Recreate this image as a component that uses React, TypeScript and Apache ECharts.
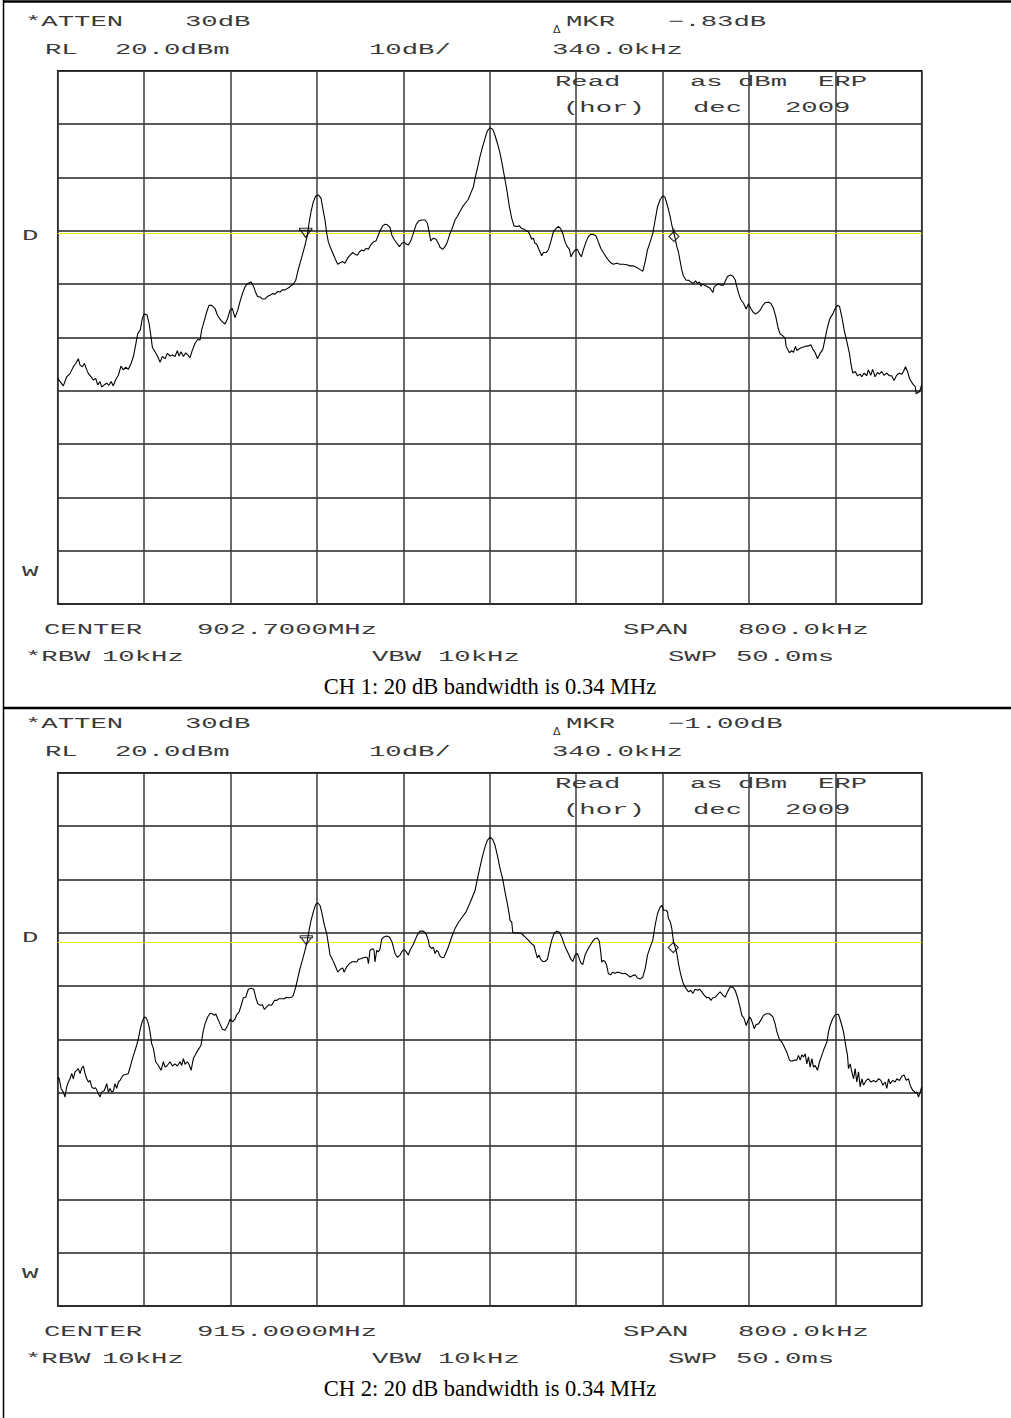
import React, { useEffect, useRef } from "react";
import * as echarts from "echarts";

// ---------- DATA ----------
// Frequency offset from centre (kHz), level (dBm)
const ch1Trace: [number, number][] = [
  [-400.0,-37.7],[-394.8,-39.1],[-391.7,-37.4],[-388.6,-36.8],[-385.5,-35.5],[-383.3,-34.9],[-380.9,-34.0],[-379.3,-35.2],[-377.2,-35.5],[-375.3,-34.9],[-373.1,-36.1],[-371.6,-36.8],[-369.1,-37.4],[-367.0,-38.0],[-364.8,-37.7],[-363.0,-38.9],[-360.8,-38.3],[-359.3,-39.3],[-356.8,-38.9],[-354.6,-38.6],[-352.5,-39.0],[-350.6,-38.3],[-348.5,-39.1],[-346.3,-37.9],[-343.8,-37.1],[-341.4,-35.4],[-339.2,-36.1],[-337.0,-35.6],[-334.6,-36.0],[-332.1,-34.9],[-329.9,-33.6],[-327.8,-31.4],[-325.9,-29.3],[-323.5,-28.6],[-321.6,-26.4],[-319.8,-25.6],[-317.3,-25.8],[-315.4,-27.4],[-313.6,-29.9],[-312.3,-31.9],[-309.9,-32.7],[-307.4,-33.6],[-305.2,-34.7],[-303.1,-33.6],[-300.6,-34.0],[-298.5,-33.0],[-296.0,-33.5],[-293.8,-33.3],[-291.4,-33.6],[-289.2,-32.5],[-287.7,-33.5],[-285.8,-32.7],[-283.6,-33.6],[-281.5,-32.9],[-279.6,-33.3],[-277.5,-33.8],[-275.3,-32.4],[-272.8,-31.1],[-270.4,-30.4],[-268.2,-30.5],[-266.7,-28.6],[-264.2,-26.8],[-262.0,-25.2],[-259.9,-24.0],[-257.4,-24.0],[-254.3,-24.6],[-252.2,-25.8],[-249.7,-26.6],[-247.5,-27.1],[-245.1,-27.5],[-242.6,-26.4],[-240.4,-24.9],[-238.3,-24.6],[-235.8,-26.3],[-233.3,-24.9],[-231.2,-23.3],[-229.0,-21.8],[-226.5,-20.5],[-224.1,-19.9],[-221.0,-19.6],[-218.5,-20.5],[-216.7,-21.6],[-214.8,-22.4],[-212.7,-22.4],[-210.5,-22.8],[-208.0,-22.8],[-205.6,-22.3],[-203.4,-22.1],[-201.2,-21.8],[-198.8,-21.9],[-196.3,-21.4],[-194.1,-21.5],[-192.0,-21.1],[-189.5,-21.1],[-187.0,-20.8],[-184.9,-20.5],[-181.8,-20.0],[-179.6,-19.3],[-177.8,-17.7],[-175.6,-16.1],[-173.5,-14.6],[-171.0,-12.7],[-169.1,-11.1],[-167.3,-8.6],[-165.4,-6.4],[-163.3,-4.6],[-161.1,-3.5],[-158.6,-3.3],[-156.2,-3.9],[-154.0,-6.4],[-152.5,-8.0],[-150.9,-10.5],[-149.4,-12.1],[-147.8,-13.0],[-145.7,-14.0],[-143.2,-15.2],[-140.7,-16.3],
  [-138.6,-16.0],[-136.1,-15.8],[-134.0,-16.1],[-131.8,-15.2],[-129.3,-14.6],[-126.9,-14.1],[-124.7,-14.4],[-122.5,-14.6],[-120.7,-14.0],[-118.5,-13.6],[-116.4,-13.8],[-114.5,-13.3],[-112.3,-13.5],[-110.2,-12.7],[-107.7,-12.1],[-105.2,-11.9],[-103.1,-10.8],[-101.5,-10.0],[-99.1,-9.1],[-96.9,-8.8],[-94.8,-8.9],[-92.3,-9.4],[-90.7,-10.8],[-88.6,-11.6],[-86.1,-12.3],[-83.6,-13.0],[-81.5,-12.4],[-79.3,-12.1],[-77.5,-12.5],[-75.3,-12.7],[-73.1,-11.9],[-70.7,-10.5],[-68.2,-8.9],[-66.0,-8.2],[-63.0,-8.0],[-59.9,-8.0],[-57.7,-8.6],[-55.9,-10.4],[-54.6,-11.9],[-52.2,-11.4],[-49.7,-11.6],[-47.5,-12.4],[-46.0,-13.1],[-43.5,-13.5],[-41.4,-13.0],[-39.2,-12.1],[-36.7,-10.5],[-34.3,-9.3],[-32.1,-8.0],[-29.9,-7.3],[-27.5,-6.4],[-25.0,-5.5],[-22.8,-4.9],[-19.8,-4.1],[-17.6,-3.0],[-15.1,-1.8],[-13.6,-0.2],[-11.4,1.7],[-9.0,3.9],[-6.5,5.8],[-4.3,7.3],[-2.2,8.7],[0.3,9.3],[2.8,9.0],[4.9,7.9],[7.1,6.4],[9.6,4.5],[12.0,2.0],[14.2,-0.5],[16.4,-3.0],[18.2,-5.5],[20.4,-7.7],[22.5,-9.1],[25.0,-9.2],[27.5,-9.1],[29.6,-9.6],[31.8,-9.7],[33.6,-10.0],[35.8,-10.2],[37.3,-10.8],[38.9,-11.6],[40.4,-11.4],[42.0,-12.4],[43.5,-12.5],[45.1,-13.3],[46.6,-14.0],[48.1,-14.7],[49.7,-14.1],[52.2,-14.1],[54.3,-13.6],[56.5,-12.1],[59.0,-10.2],[61.4,-9.6],[63.6,-9.2],[65.7,-9.6],[67.6,-10.5],[69.8,-12.1],[71.9,-13.0],[73.8,-13.5],[75.3,-14.9],[77.5,-14.0],[79.3,-13.6],[81.2,-13.5],[83.0,-14.3],[84.9,-14.9],[86.7,-13.6],[89.2,-12.1],[91.4,-11.1],[93.5,-10.7],[96.0,-10.7],[98.5,-11.0],[100.6,-12.1],[102.8,-13.3],[105.2,-14.1],[107.7,-14.9],[109.9,-15.5],[112.0,-16.0],[114.5,-16.3],[117.6,-16.1],[120.7,-16.3],[123.8,-16.3],[126.9,-16.4],
  [130.1,-16.6],[133.1,-16.6],[136.2,-16.9],[139.3,-17.3],[141.8,-17.6],[144.0,-15.8],[146.1,-13.6],[148.6,-12.1],[151.0,-10.5],[153.2,-8.0],[155.4,-5.5],[157.8,-4.2],[160.0,-3.5],[162.2,-3.7],[164.0,-4.9],[165.6,-6.1],[167.1,-7.4],[168.6,-8.9],[170.2,-10.2],[171.7,-11.4],[173.3,-13.0],[174.8,-14.0],[176.4,-15.8],[177.9,-17.4],[179.4,-18.5],[181.9,-19.3],[184.1,-19.3],[186.2,-19.6],[188.7,-19.9],[190.6,-19.4],[192.4,-19.9],[194.3,-19.6],[195.5,-20.4],[197.3,-20.0],[199.5,-20.3],[201.7,-20.5],[204.1,-20.8],[206.6,-21.6],[207.8,-20.6],[209.7,-20.2],[211.9,-20.0],[214.0,-20.2],[216.5,-20.2],[218.3,-19.4],[220.2,-18.6],[222.7,-18.3],[225.1,-18.5],[227.3,-19.2],[228.8,-20.5],[230.4,-21.7],[232.5,-22.9],[235.0,-23.6],[237.5,-24.7],[239.6,-23.7],[241.8,-24.6],[243.6,-25.2],[245.8,-25.6],[248.0,-25.4],[250.4,-24.9],[252.9,-24.0],[255.1,-23.5],[258.1,-23.4],[260.3,-23.6],[262.8,-24.6],[264.9,-26.1],[267.1,-28.3],[269.0,-29.4],[271.4,-29.7],[273.6,-30.2],[274.5,-31.7],[275.7,-32.2],[277.6,-32.9],[279.4,-32.5],[281.3,-32.8],[283.1,-31.7],[284.4,-32.5],[286.9,-32.1],[289.0,-31.9],[292.1,-31.7],[295.2,-31.6],[297.3,-31.4],[299.2,-32.2],[301.4,-32.9],[303.5,-34.0],[306.0,-33.0],[308.5,-32.2],[310.6,-30.2],[312.2,-28.6],[313.7,-27.4],[315.2,-26.4],[317.7,-25.6],[319.9,-24.6],[322.0,-24.0],[323.9,-24.2],[326.0,-26.1],[328.2,-28.6],[330.7,-30.8],[333.1,-33.0],[334.4,-34.9],[336.2,-36.7],[338.4,-36.4],[340.5,-37.2],[343.0,-36.9],[344.5,-37.4],[346.7,-36.7],[349.1,-37.2],[350.6,-36.1],[352.8,-37.1],[354.6,-36.0],[356.8,-37.4],[359.0,-36.6],[360.8,-36.9],[363.0,-36.4],[365.1,-37.1],[367.6,-36.7],[370.1,-37.2],[372.2,-37.2],[374.4,-38.1],[376.8,-37.1],[379.3,-36.7],[381.6,-36.9],[383.1,-36.4],[385.0,-35.5],[386.9,-36.4],[388.7,-37.7],[390.9,-38.5],[392.4,-38.9],[394.0,-39.2],[394.9,-40.6],[396.1,-40.4],[398.0,-40.2],[400.0,-38.9],
];

const ch2Trace: [number, number][] = [
  [-400.0,-37.4],[-398.8,-37.2],[-396.9,-39.2],[-394.8,-39.9],[-393.2,-40.8],[-391.7,-38.9],[-390.1,-38.0],[-388.6,-37.4],[-387.0,-36.4],[-385.5,-37.4],[-384.0,-36.1],[-382.4,-35.8],[-380.9,-35.5],[-379.3,-36.4],[-377.8,-35.4],[-376.2,-35.0],[-374.7,-36.4],[-373.1,-37.4],[-371.6,-38.0],[-370.1,-37.7],[-368.5,-38.9],[-367.0,-39.2],[-364.8,-39.1],[-363.0,-39.9],[-360.8,-40.8],[-359.3,-39.9],[-356.8,-39.6],[-354.6,-38.3],[-353.1,-39.9],[-351.5,-39.2],[-350.0,-39.9],[-348.5,-39.7],[-346.9,-38.3],[-345.4,-39.2],[-343.8,-38.0],[-342.3,-37.7],[-340.7,-37.1],[-339.2,-36.7],[-337.0,-36.6],[-334.6,-36.4],[-332.1,-34.6],[-329.9,-33.0],[-328.4,-32.1],[-326.9,-31.1],[-325.3,-29.9],[-323.5,-28.0],[-321.6,-26.6],[-319.8,-25.8],[-317.9,-26.0],[-316.0,-27.1],[-314.5,-28.6],[-313.0,-30.8],[-311.4,-31.7],[-309.3,-34.2],[-306.8,-34.9],[-304.3,-35.8],[-302.2,-34.2],[-300.6,-35.2],[-298.5,-34.9],[-296.0,-34.2],[-293.8,-35.0],[-291.4,-34.6],[-289.2,-35.0],[-286.7,-34.2],[-285.2,-34.9],[-283.6,-33.6],[-282.1,-34.7],[-279.9,-34.2],[-278.4,-34.7],[-276.5,-35.8],[-274.4,-33.6],[-271.3,-32.4],[-269.1,-31.7],[-267.3,-31.1],[-265.4,-28.6],[-263.6,-27.1],[-261.1,-25.8],[-258.9,-25.1],[-256.8,-25.2],[-254.9,-25.5],[-253.7,-25.2],[-251.9,-26.1],[-249.7,-27.1],[-247.5,-28.1],[-245.1,-28.3],[-242.6,-27.4],[-240.4,-26.2],[-238.3,-26.7],[-235.8,-26.2],[-234.3,-25.4],[-232.1,-24.9],[-230.2,-23.7],[-228.1,-22.2],[-225.9,-22.1],[-223.5,-20.6],[-221.0,-20.4],[-218.5,-20.6],[-216.7,-22.1],[-214.8,-23.3],[-212.7,-23.6],[-210.5,-23.5],[-208.6,-24.4],[-206.5,-23.9],[-204.3,-23.5],[-201.9,-23.6],[-199.4,-22.7],[-197.2,-22.7],[-195.1,-22.4],[-192.6,-22.4],[-190.1,-22.4],[-188.0,-22.1],[-185.8,-22.2],[-183.3,-22.1],[-181.8,-21.7],[-179.6,-20.2],[-177.8,-18.6],[-175.6,-16.7],[-173.5,-15.2],[-171.0,-13.3],[-169.1,-11.7],[-167.3,-9.6],[-165.4,-7.7],[-163.3,-6.1],[-161.1,-4.7],[-159.3,-4.4],[-157.1,-4.9],[-155.6,-6.1],[-153.1,-8.6],[-150.9,-10.2],[-149.4,-12.1],[-147.8,-14.2],[-145.7,-15.0],[-143.2,-16.1],[-140.7,-17.4],
  [-138.6,-16.9],[-136.1,-16.6],[-134.9,-17.4],[-132.4,-16.4],[-129.9,-15.8],[-127.8,-15.5],[-125.6,-15.4],[-123.1,-15.5],[-121.6,-15.0],[-119.4,-14.9],[-117.0,-14.7],[-114.5,-14.6],[-113.3,-14.7],[-112.3,-15.8],[-110.8,-13.3],[-108.3,-13.0],[-107.1,-13.3],[-106.2,-15.5],[-104.6,-13.3],[-103.1,-13.6],[-101.5,-13.0],[-100.0,-11.2],[-97.8,-10.8],[-95.4,-10.6],[-92.9,-10.8],[-90.7,-11.6],[-89.2,-12.7],[-87.7,-13.9],[-85.5,-14.6],[-83.0,-14.2],[-81.5,-13.6],[-79.9,-13.2],[-78.4,-13.3],[-76.9,-13.7],[-75.3,-14.2],[-73.8,-13.3],[-71.3,-12.4],[-69.1,-11.4],[-67.0,-10.4],[-64.5,-9.7],[-61.4,-9.7],[-59.0,-10.2],[-56.8,-11.4],[-55.9,-12.5],[-53.7,-13.0],[-52.2,-12.7],[-50.6,-13.9],[-49.1,-13.3],[-47.5,-13.6],[-46.6,-14.2],[-44.4,-14.7],[-42.3,-14.6],[-40.4,-13.7],[-38.3,-12.7],[-36.7,-11.7],[-35.2,-10.8],[-32.1,-9.2],[-29.0,-8.1],[-25.9,-7.2],[-21.9,-6.1],[-17.6,-4.1],[-13.6,-2.1],[-11.4,0.1],[-9.0,2.3],[-6.5,4.5],[-4.3,6.1],[-2.2,7.3],[0.3,7.9],[2.8,7.5],[4.9,6.4],[7.1,4.5],[9.6,2.0],[12.0,0.1],[14.2,-2.4],[16.4,-4.6],[18.2,-6.7],[18.8,-7.7],[20.4,-8.0],[21.3,-9.9],[23.5,-10.1],[26.5,-10.0],[29.6,-10.2],[32.7,-10.8],[35.8,-11.4],[38.9,-12.1],[41.0,-12.4],[42.6,-13.6],[44.1,-14.7],[45.7,-14.2],[47.2,-15.0],[49.1,-15.4],[51.2,-15.4],[53.4,-15.0],[55.2,-13.3],[57.4,-11.4],[59.6,-10.2],[62.0,-9.7],[64.5,-9.9],[66.7,-10.8],[68.8,-12.1],[70.7,-13.0],[72.8,-13.9],[75.0,-14.9],[76.9,-15.4],[79.0,-14.2],[81.2,-13.9],[83.0,-14.9],[84.3,-15.6],[86.1,-16.0],[88.3,-14.2],[90.4,-13.3],[92.9,-12.4],[95.4,-11.6],[97.5,-11.1],[99.7,-11.0],[101.5,-11.6],[102.8,-13.6],[103.7,-15.5],[105.2,-15.2],[106.8,-15.4],[108.3,-16.1],[109.9,-17.7],[112.0,-17.9],[113.9,-17.4],[116.0,-17.6],[118.2,-17.4],[120.7,-17.5],[123.1,-17.7],[125.3,-17.6],[127.5,-17.9],
  [130.1,-18.3],[133.1,-18.0],[134.7,-17.9],[136.9,-18.5],[139.3,-18.7],[141.8,-18.3],[144.0,-16.7],[146.1,-14.2],[148.6,-12.7],[151.0,-11.4],[153.2,-8.6],[155.4,-6.4],[157.8,-5.2],[159.4,-4.9],[160.9,-5.8],[163.4,-5.8],[164.6,-6.1],[165.6,-7.4],[167.1,-7.9],[168.6,-9.2],[170.2,-11.7],[171.7,-12.7],[173.3,-13.9],[174.8,-15.8],[176.4,-17.4],[177.9,-18.6],[179.4,-19.6],[181.9,-20.5],[184.1,-21.1],[186.2,-20.8],[188.1,-21.4],[190.2,-20.6],[192.4,-20.8],[194.3,-20.6],[196.4,-21.1],[198.6,-21.7],[201.0,-22.2],[202.9,-22.1],[204.8,-22.7],[206.6,-22.2],[208.8,-22.1],[210.9,-21.6],[213.4,-21.1],[215.9,-21.7],[218.0,-22.1],[220.2,-21.1],[222.7,-20.2],[225.1,-20.2],[227.3,-20.8],[229.4,-22.1],[231.3,-23.6],[233.5,-25.5],[235.6,-26.1],[237.5,-27.4],[238.7,-26.7],[240.6,-25.8],[241.8,-26.1],[243.6,-27.1],[244.9,-28.0],[246.7,-27.2],[248.9,-27.1],[251.0,-26.4],[253.5,-25.5],[256.0,-25.2],[259.1,-25.2],[262.2,-25.8],[264.3,-27.1],[265.9,-28.6],[268.3,-30.0],[270.5,-30.5],[272.7,-31.4],[275.1,-32.4],[277.6,-33.9],[279.8,-34.1],[281.9,-33.9],[284.4,-33.9],[285.9,-33.0],[287.5,-33.9],[289.0,-32.9],[290.6,-33.3],[292.1,-32.7],[293.6,-34.6],[295.2,-33.3],[296.7,-35.2],[298.3,-33.6],[299.8,-35.2],[301.4,-34.9],[303.5,-35.8],[305.4,-34.2],[307.5,-33.0],[309.7,-31.7],[312.2,-30.5],[313.7,-28.6],[315.2,-27.4],[317.7,-26.1],[319.9,-25.4],[323.0,-25.3],[325.1,-26.7],[327.6,-28.6],[330.1,-31.7],[331.3,-33.0],[332.2,-35.5],[333.8,-34.6],[335.3,-36.1],[336.9,-37.4],[338.4,-35.5],[339.9,-38.0],[341.5,-36.1],[343.0,-38.9],[344.6,-37.4],[346.1,-38.6],[348.6,-37.7],[350.7,-37.4],[352.9,-38.0],[355.4,-37.7],[357.8,-38.0],[360.0,-37.4],[362.2,-37.7],[364.0,-38.6],[366.2,-38.0],[367.7,-39.2],[369.3,-37.4],[370.8,-38.3],[373.3,-37.7],[375.4,-38.0],[377.0,-37.4],[379.4,-37.7],[381.6,-36.9],[383.8,-36.7],[385.6,-37.7],[387.8,-37.4],[389.3,-38.6],[391.7,-39.6],[392.4,-39.6],[394.0,-40.0],[395.5,-39.9],[397.0,-40.8],[398.6,-39.9],[400.0,-38.9],
];

// Marker positions [kHz offset, dBm]: reference (triangle) then delta (diamond)
const ch1Markers: [number, number][] = [[-170.4, -10.4], [170.6, -10.8]];
const ch2Markers: [number, number][] = [[-169.8, -11.4], [170.0, -12.5]];

// Display line level (dBm)
const displayLines = [-10.5, -11.7];

// Axis settings: kHz offset span and dBm range
const spanKHz = [-400, 400];
const spanStepKHz = 80;
const levelRange = [-80, 20];
const levelStep = 10;

// Annotation texts
const attenLabels = ["30dB", "30dB"];
const mkrDeltaLabels = ["\u2212.83dB", "\u22121.00dB"];
const refLevelLabels = ["20.0dBm", "20.0dBm"];
const scaleLabels = ["10dB/", "10dB/"];
const mkrFreqLabels = ["340.0kHz", "340.0kHz"];
const centerLabels = ["902.7000MHz", "915.0000MHz"];
const spanLabels = ["800.0kHz", "800.0kHz"];
const rbwLabels = ["10kHz", "10kHz"];
const vbwLabels = ["10kHz", "10kHz"];
const swpLabels = ["50.0ms", "50.0ms"];
const captions = [
  "CH 1: 20 dB bandwidth is 0.34 MHz",
  "CH 2: 20 dB bandwidth is 0.34 MHz",
];

// ---------- LAYOUT ----------
const W = 1011;
const H = 1418;
const PANEL_DY = 702;
const GRID_LEFT = 57.7;
const GRID_TOP = 70.7;
const GRID_W = 864;
const GRID_H = 533.3;

const TRI_PATH = "path://M0,0L12,0L12,2L0,2Z M1,2L11,2L6,9Z";
const DIA_PATH = "path://M5,0L5,3 M5,3L10,8L5,13L0,8Z";

function instText(x: number, y: number, text: string) {
  return {
    type: "text",
    x,
    y,
    scaleX: 1.82,
    silent: true,
    style: {
      text,
      fontFamily: "Liberation Mono",
      fontSize: 15,
      fill: "#3a3a3a",
      align: "left",
      verticalAlign: "middle",
    },
  };
}

function panelGraphics(i: number) {
  const oy = i * PANEL_DY;
  const els: any[] = [
    instText(25, oy + 22, "*ATTEN"),
    instText(185, oy + 22, attenLabels[i]),
    {
      type: "text",
      x: 553,
      y: oy + 29,
      silent: true,
      style: { text: "\u0394", fontFamily: "DejaVu Sans", fontSize: 11, fill: "#333", verticalAlign: "middle" },
    },
    instText(566, oy + 22, "MKR"),
    instText(668, oy + 22, mkrDeltaLabels[i]),
    instText(45, oy + 50, "RL"),
    instText(115, oy + 50, refLevelLabels[i]),
    instText(369, oy + 50, scaleLabels[i]),
    instText(552, oy + 50, mkrFreqLabels[i]),
    instText(555, oy + 82, "Read"),
    instText(690, oy + 82, "as"),
    instText(738, oy + 82, "dBm"),
    instText(818, oy + 82, "ERP"),
    instText(563, oy + 108, "(hor)"),
    instText(693, oy + 108, "dec"),
    instText(785, oy + 108, "2009"),
    instText(22, oy + 236, "D"),
    instText(22, oy + 572, "W"),
    instText(44, oy + 630, "CENTER"),
    instText(197, oy + 630, centerLabels[i]),
    instText(623, oy + 630, "SPAN"),
    instText(738, oy + 630, spanLabels[i]),
    instText(25, oy + 657, "*RBW"),
    instText(102, oy + 657, rbwLabels[i]),
    instText(372, oy + 657, "VBW"),
    instText(438, oy + 657, vbwLabels[i]),
    instText(668, oy + 657, "SWP"),
    instText(736, oy + 657, swpLabels[i]),
    {
      type: "text",
      x: 490,
      y: oy + 686,
      silent: true,
      style: {
        text: captions[i],
        fontFamily: "Liberation Serif",
        fontSize: 22.5,
        fill: "#000",
        align: "center",
        verticalAlign: "middle",
      },
    },
  ];
  return els;
}

function buildOption() {
  const traces = [ch1Trace, ch2Trace];
  const markers = [ch1Markers, ch2Markers];
  const grids = [0, 1].map((i) => ({
    left: GRID_LEFT,
    top: GRID_TOP + i * PANEL_DY,
    width: GRID_W,
    height: GRID_H,
    show: true,
    borderColor: "#111",
    borderWidth: 1.5,
    backgroundColor: "transparent",
  }));
  const xAxes = [0, 1].map((i) => ({
    type: "value",
    gridIndex: i,
    min: spanKHz[0],
    max: spanKHz[1],
    interval: spanStepKHz,
    axisLabel: { show: false },
    axisTick: { show: false },
    axisLine: { show: false },
    splitLine: { show: true, lineStyle: { color: "#3a3a3a", width: 1.5 } },
  }));
  const yAxes = [0, 1].map((i) => ({
    type: "value",
    gridIndex: i,
    min: levelRange[0],
    max: levelRange[1],
    interval: levelStep,
    axisLabel: { show: false },
    axisTick: { show: false },
    axisLine: { show: false },
    splitLine: { show: true, lineStyle: { color: "#222", width: 1.5 } },
  }));
  const series: any[] = [];
  [0, 1].forEach((i) => {
    series.push({
      type: "line",
      xAxisIndex: i,
      yAxisIndex: i,
      data: traces[i],
      showSymbol: false,
      symbol: "none",
      smooth: false,
      lineStyle: { color: "#000", width: 1.1 },
      z: 3,
      silent: true,
      markLine: {
        silent: true,
        symbol: ["none", "none"],
        label: { show: false },
        lineStyle: { color: "#eded00", width: 1.2, type: "solid" },
        data: [{ yAxis: displayLines[i] }],
        z: 2,
      },
    });
    series.push({
      type: "scatter",
      xAxisIndex: i,
      yAxisIndex: i,
      data: [markers[i][0]],
      symbol: TRI_PATH,
      symbolSize: [12, 9],
      itemStyle: { color: "rgba(0,0,0,0)", borderColor: "#000", borderWidth: 1.2 },
      z: 4,
      silent: true,
    });
    series.push({
      type: "scatter",
      xAxisIndex: i,
      yAxisIndex: i,
      data: [markers[i][1]],
      symbol: DIA_PATH,
      symbolSize: [10, 13],
      itemStyle: { color: "rgba(0,0,0,0)", borderColor: "#000", borderWidth: 1.2 },
      z: 4,
      silent: true,
    });
  });

  const frame = [
    { type: "line", silent: true, shape: { x1: 3, y1: 1.5, x2: W, y2: 1.5 }, style: { stroke: "#000", lineWidth: 2.5 } },
    { type: "line", silent: true, shape: { x1: 3.5, y1: 0, x2: 3.5, y2: H }, style: { stroke: "#000", lineWidth: 1.5 } },
    { type: "line", silent: true, shape: { x1: 3, y1: 708, x2: W, y2: 708 }, style: { stroke: "#000", lineWidth: 2.5 } },
  ];

  return {
    animation: false,
    backgroundColor: "#fff",
    grid: grids,
    xAxis: xAxes,
    yAxis: yAxes,
    series,
    graphic: { elements: [...frame, ...panelGraphics(0), ...panelGraphics(1)] },
  };
}

export default function App() {
  const ref = useRef<HTMLDivElement>(null);
  useEffect(() => {
    document.body.style.margin = "0";
    if (!ref.current) return;
    const chart = echarts.init(ref.current, undefined, { renderer: "svg" });
    chart.setOption(buildOption() as any);
    return () => chart.dispose();
  }, []);
  return <div ref={ref} style={{ width: W, height: H }} />;
}
